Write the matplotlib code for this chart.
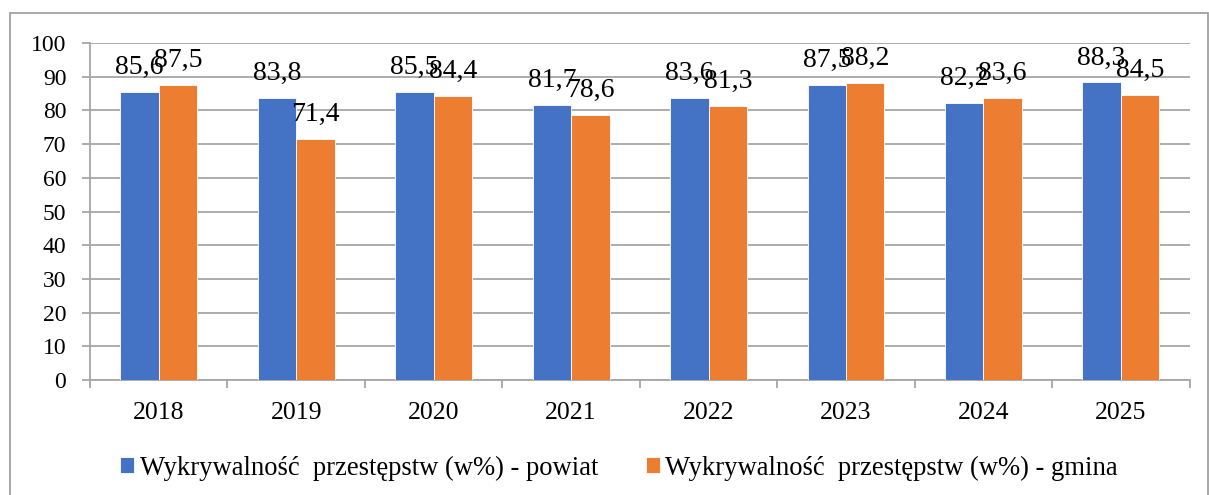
import numpy as np
import matplotlib.pyplot as plt
from matplotlib.patches import Rectangle

# -----------------------------
# DATA
# -----------------------------
years = ["2018", "2019", "2020", "2021", "2022", "2023", "2024", "2025"]
powiat = [85.6, 83.8, 85.5, 81.7, 83.6, 87.5, 82.2, 88.3]
gmina = [87.5, 71.4, 84.4, 78.6, 81.3, 88.2, 83.6, 84.5]

label_powiat = "Wykrywalność  przestępstw (w%) - powiat"
label_gmina = "Wykrywalność  przestępstw (w%) - gmina"

BLUE = "#4472C4"
ORANGE = "#ED7D31"
GRID = "#A6A6A6"

plt.rcParams["font.family"] = ["Liberation Serif", "DejaVu Serif"]

# -----------------------------
# FIGURE
# -----------------------------
fig = plt.figure(figsize=(12.09, 4.95), dpi=100)
ax = fig.add_axes([0.0744, 0.2323, 0.9096, 0.6807])

x = np.arange(len(years))
w = 0.28
b1 = ax.bar(x - w / 2, powiat, w, color=BLUE, edgecolor="white", linewidth=0.6,
            label=label_powiat, zorder=3)
b2 = ax.bar(x + w / 2, gmina, w, color=ORANGE, edgecolor="white", linewidth=0.6,
            label=label_gmina, zorder=3)

for bars, vals in ((b1, powiat), (b2, gmina)):
    for rect, v in zip(bars, vals):
        ax.annotate(f"{v:.1f}".replace(".", ","),
                    (rect.get_x() + rect.get_width() / 2, v),
                    xytext=(0, 13), textcoords="offset points",
                    ha="center", va="baseline", fontsize=20, zorder=4)

ax.set_ylim(0, 100)
ax.set_xlim(-0.5, len(years) - 0.5)
ax.set_yticks(range(0, 101, 10))
ax.yaxis.grid(True, color=GRID, linewidth=1.3, zorder=0)
ax.tick_params(axis="y", labelsize=17, length=6, width=1.3, color=GRID, pad=11)

# category labels + boundary ticks
ax.set_xticks(x)
ax.set_xticklabels(years, fontsize=18.5)
ax.tick_params(axis="x", which="major", length=0, pad=16)
ax.set_xticks(np.arange(-0.5, len(years)), minor=True)
ax.tick_params(axis="x", which="minor", length=6, width=1.3, color=GRID)

for s in ("top", "right"):
    ax.spines[s].set_visible(False)
ax.spines["left"].set_color(GRID)
ax.spines["left"].set_linewidth(1.3)
ax.spines["bottom"].set_color(GRID)
ax.spines["bottom"].set_linewidth(1.3)

ax.legend(loc="center", bbox_to_anchor=(0.512, (495 - 468) / 495),
          bbox_transform=fig.transFigure, ncol=2, frameon=False,
          fontsize=19.2, handlelength=0.53, handleheight=0.53,
          handletextpad=0.2, columnspacing=1.8)

# outer chart border
fig.patches.append(Rectangle((10 / 1209, -0.05), 1198 / 1209, 1.05 - 13 / 495,
                             transform=fig.transFigure, fill=False,
                             edgecolor="#A0A0A0", linewidth=1.3))

fig.savefig("out.png", dpi=100)
